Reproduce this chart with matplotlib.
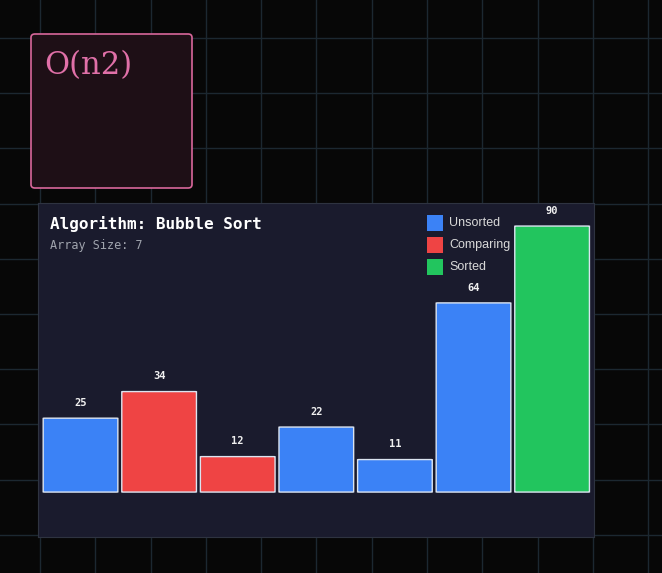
import matplotlib
matplotlib.use("Agg")
import matplotlib.pyplot as plt
from matplotlib.patches import FancyBboxPatch, Rectangle
from matplotlib.lines import Line2D

values = [25, 34, 12, 22, 11, 64, 90]
states = ["Unsorted", "Comparing", "Comparing", "Unsorted", "Unsorted", "Unsorted", "Sorted"]
colors = {"Unsorted": "#3b82f6", "Comparing": "#ef4444", "Sorted": "#22c55e"}
legend_items = ["Unsorted", "Comparing", "Sorted"]
title = "Algorithm: Bubble Sort"
subtitle = "Array Size: 7"
complexity = "O(n2)"

W, H = 662, 573
fig = plt.figure(figsize=(W/100, H/100), dpi=100, facecolor="#070707")

def fx(x): return x / W
def fy(y): return 1 - y / H

# background grid
for k in range(13):
    x = -15.3 + 55.3 * k
    fig.add_artist(Line2D([fx(x)]*2, [0, 1], color="#1c2831", lw=1, zorder=0))
for k in range(11):
    y = 38 + 55.2 * (k - 0)
    fig.add_artist(Line2D([0, 1], [fy(y)]*2, color="#1c2831", lw=1, zorder=0))

# complexity box
fig.add_artist(FancyBboxPatch((fx(31), fy(188)), fx(161), (154)/H,
                              boxstyle="round,pad=0,rounding_size=0.006",
                              transform=fig.transFigure, facecolor="#1e0f16",
                              edgecolor="#d9679b", lw=1.2, zorder=1))
fig.text(fx(44), fy(66), complexity, family="DejaVu Serif", fontsize=22,
         color="#e070a8", va="center", ha="left")

# panel axes
ax = fig.add_axes([fx(38), fy(537), 556/W, 334/H])
ax.set_facecolor("#1a1b2d")
for s in ax.spines.values():
    s.set_color("#2e3340")
ax.set_xticks([]); ax.set_yticks([])
ax.set_xlim(-0.541, 6.533)
ax.set_ylim(-15.2, 97.8)

xs = list(range(len(values)))
for i, (v, st) in enumerate(zip(values, states)):
    ax.add_patch(FancyBboxPatch((i - 0.475, 0), 0.95, v,
                                boxstyle="round,pad=0,rounding_size=0.02",
                                facecolor=colors[st], edgecolor="#dbe4f0", lw=1.0,
                                mutation_aspect=3))
    ax.text(i, v + 3.5, str(v), ha="center", va="bottom", family="DejaVu Sans Mono",
            fontweight="bold", fontsize=7.5, color="#f0f0f0")

fig.text(fx(50), fy(224), title, family="DejaVu Sans Mono", fontweight="bold",
         fontsize=11.5, color="white", va="center")
fig.text(fx(50), fy(246), subtitle, family="DejaVu Sans Mono",
         fontsize=8.5, color="#a0a4ad", va="center")

for j, name in enumerate(legend_items):
    y = 215 + 22 * j
    fig.add_artist(Rectangle((fx(427), fy(y + 16)), 16/W, 16/H,
                             transform=fig.transFigure, facecolor=colors[name],
                             edgecolor="none"))
    fig.text(fx(449), fy(y + 8), name, fontsize=9, color="#d8d8d8", va="center",
             family="Liberation Sans")

fig.savefig("out.png", dpi=100, facecolor=fig.get_facecolor())
